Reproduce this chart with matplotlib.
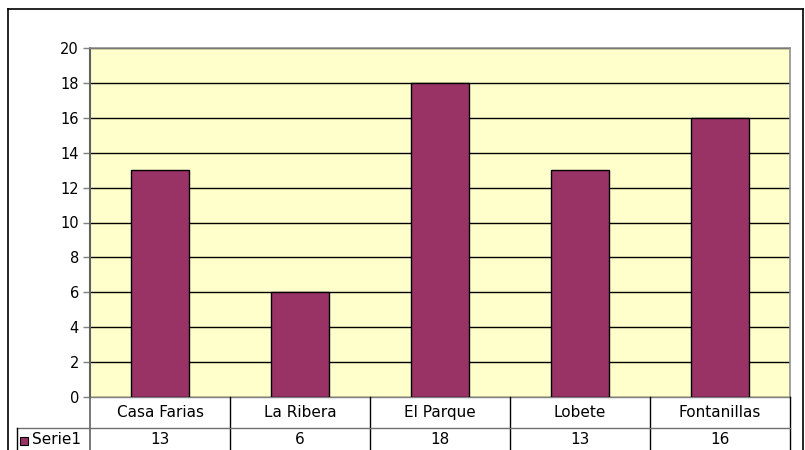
import matplotlib
matplotlib.use("Agg")
import matplotlib.pyplot as plt
from matplotlib.patches import Rectangle
from matplotlib.lines import Line2D
import matplotlib.transforms as mtransforms

categories = ["Casa Farias", "La Ribera", "El Parque", "Lobete", "Fontanillas"]
values = [13, 6, 18, 13, 16]
series_name = "Serie1"
yticks = [0, 2, 4, 6, 8, 10, 12, 14, 16, 18, 20]

W, H = 805, 450
fig = plt.figure(figsize=(W / 100, H / 100), dpi=100)
fig.patch.set_facecolor("white")

def fx(px):
    return px / W

def fy(py):
    return 1 - py / H

FS_TICK = 10.5
FS_TAB = 11

ax = fig.add_axes([fx(90), fy(397), fx(790) - fx(90), fy(48) - fy(397)])
ax.set_facecolor("#FFFFCC")
x = list(range(len(categories)))
ax.bar(x, values, width=0.41, color="#993366", edgecolor="black", linewidth=1, zorder=3)
ax.set_xlim(-0.5, len(categories) - 0.5)
ax.set_ylim(0, 20)
ax.set_yticks(yticks)
ax.set_yticklabels([str(t) for t in yticks], fontsize=FS_TICK, family="DejaVu Sans")
ax.yaxis.grid(True, color="black", linewidth=1, zorder=1)
ax.set_axisbelow(True)
ax.set_xticks([])
ax.tick_params(axis="y", length=5, width=1, color="#808080", pad=3)
for s in ["top", "right"]:
    ax.spines[s].set_color("#909090")
    ax.spines[s].set_linewidth(1.2)
ax.spines["left"].set_color("#606060")
ax.spines["left"].set_linewidth(1.5)
ax.spines["bottom"].set_color("#808080")
ax.spines["bottom"].set_linewidth(1)

# data table below the axes
trans = mtransforms.blended_transform_factory(ax.transData, fig.transFigure)
row1_top, row1_bot, row2_bot = 397, 428, 455
for i in range(len(categories) + 1):
    xe = i - 0.5
    col = "#606060" if i == 0 else "black"
    fig.add_artist(Line2D([xe, xe], [fy(row1_top), fy(row2_bot)], transform=trans,
                          color=col, linewidth=1.2 if i == 0 else 1))
fig.add_artist(Line2D([fx(17), fx(790)], [fy(row1_bot), fy(row1_bot)],
                      transform=fig.transFigure, color="#707070", linewidth=1))
fig.add_artist(Line2D([fx(17), fx(17)], [fy(row1_bot), fy(row2_bot)],
                      transform=fig.transFigure, color="black", linewidth=1))
for i, (c, v) in enumerate(zip(categories, values)):
    fig.text(i, fy((row1_top + row1_bot) / 2), c, transform=trans, fontsize=FS_TAB,
             ha="center", va="center")
    fig.text(i, fy((row1_bot + 450) / 2 + 1), str(v), transform=trans, fontsize=FS_TAB,
             ha="center", va="center")

# legend key in table
fig.add_artist(Rectangle((fx(20), fy(445)), fx(8), fy(437) - fy(445), transform=fig.transFigure,
                         facecolor="#993366", edgecolor="black", linewidth=0.8))
fig.text(fx(32), fy(440), series_name, fontsize=FS_TAB, ha="left", va="center")

# outer chart border
fig.add_artist(Line2D([fx(8), fx(803)], [fy(9), fy(9)], transform=fig.transFigure, color="black", linewidth=1.2))
fig.add_artist(Line2D([fx(8), fx(8)], [fy(9), fy(460)], transform=fig.transFigure, color="black", linewidth=1.2))
fig.add_artist(Line2D([fx(803), fx(803)], [fy(9), fy(460)], transform=fig.transFigure, color="black", linewidth=1.2))

fig.savefig("out.png", dpi=100)
